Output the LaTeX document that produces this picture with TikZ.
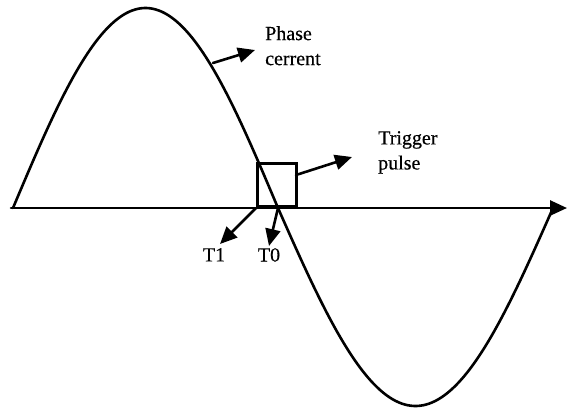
\documentclass[tikz,border=0pt]{standalone}
\usepackage{fontspec}
\setmainfont[FakeBold=0.4]{Liberation Serif}
\usetikzlibrary{arrows.meta}
\tikzset{
  ln/.style={line width=2.6pt, line cap=round, line join=round},
  arr/.style={ln, -{Triangle[length=17pt,width=15pt]}},
  lbl/.style={font=\fontsize{20}{25}\selectfont, inner sep=0pt, anchor=north west, align=left}
}
\begin{document}
\begin{tikzpicture}[x=1pt,y=-1pt]
\useasboundingbox (0,0) rectangle (569,410);
% axis
\coordinate (a0) at (11,208);
\coordinate (a1) at (567,208);
\draw[arr] (a0) -- (a1);
% sine curve
\draw[ln] plot[domain=0:180, samples=90, smooth] ({13+\x/180*265},{208-200*sin(\x)});
\draw[ln] plot[domain=0:180, samples=90, smooth] ({278+\x/180*275},{208+198*sin(\x)});
% box
\node[draw, line width=2.6pt, minimum width=39pt, minimum height=43pt, inner sep=0pt, anchor=south west] (box) at (256,208) {};
% labels
\node[lbl] (phase) at (265,26) {Phase\\cerrent};
\node[lbl] (trig) at (378,131) {Trigger\\pulse};
\node[lbl, anchor=north] (t1) at (214,248) {T1};
\node[lbl, anchor=north] (t0) at (269,248) {T0};
% arrows
\coordinate (ph0) at (213,63);
\coordinate (ph1) at (255,50);
\draw[arr] (ph0) -- (ph1);
\coordinate (tr0) at (296,175);
\coordinate (tr1) at (352,157);
\draw[arr] (tr0) -- (tr1);
\coordinate (z0) at (278,208);
\coordinate (t1tip) at (220,244);
\coordinate (t0tip) at (269,246);
\draw[arr] (box.south west) -- (t1tip);
\draw[arr] (z0) -- (t0tip);
\end{tikzpicture}
\end{document}
